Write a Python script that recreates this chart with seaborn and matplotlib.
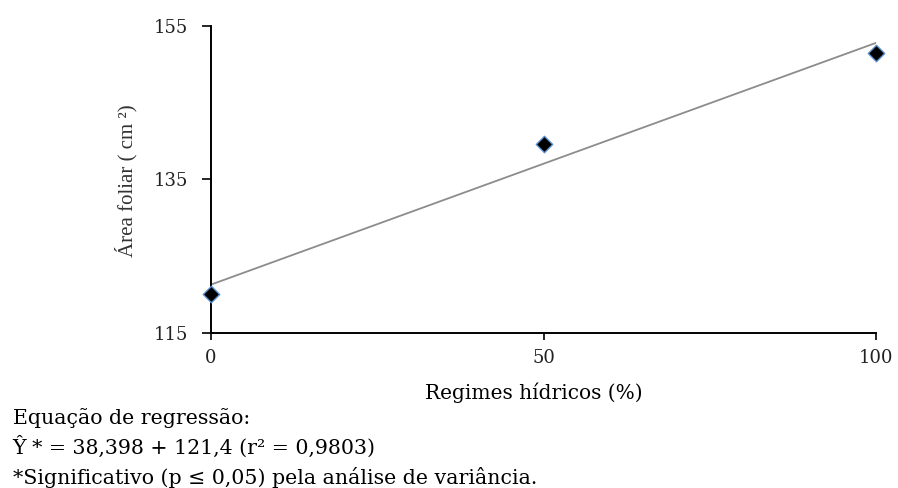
import matplotlib
matplotlib.use("Agg")
import matplotlib.pyplot as plt
import seaborn as sns
import pandas as pd

# Water regime treatments (%) and mean leaf area (cm²)
regimes = [0, 50, 100]
leaf_area = [120.0, 139.6, 151.5]
x_ticks = [0, 50, 100]
y_ticks = [115, 135, 155]

x_label = "Regimes hídricos (%)"
y_label = "Área foliar ( cm ²)"
notes = [
    "Equação de regressão:",
    "Ŷ * = 38,398 + 121,4 (r² = 0,9803)",
    "*Significativo (p ≤ 0,05) pela análise de variância.",
]

df = pd.DataFrame({"regime": regimes, "area": leaf_area})

sns.set_theme(style="white")
plt.rcParams["font.family"] = ["DejaVu Serif", "Liberation Serif"]

fig = plt.figure(figsize=(8.98, 4.88), dpi=100)
ax = fig.add_axes([0.235, 0.318, 0.7405, 0.629])

sns.regplot(data=df, x="regime", y="area", ax=ax, ci=None, scatter=False,
            line_kws={"color": "#8c8c8c", "lw": 1.3, "zorder": 2})
sns.scatterplot(data=df, x="regime", y="area", ax=ax, marker="D", s=70,
                color="black", edgecolor="#5b8fd0", linewidth=1.0, zorder=3,
                clip_on=False)

ax.set_xlim(0, 100)
ax.set_ylim(115, 155)
ax.set_xticks(x_ticks)
ax.set_yticks(y_ticks)
ax.tick_params(axis="both", direction="out", width=1.2, color="black",
               labelsize=13, labelcolor="#222222", bottom=True, left=True)
ax.tick_params(axis="x", length=5, pad=7)
ax.tick_params(axis="y", length=6.5, pad=10)
for side in ["top", "right"]:
    ax.spines[side].set_visible(False)
for side in ["left", "bottom"]:
    ax.spines[side].set_color("black")
    ax.spines[side].set_linewidth(1.4)

ax.set_xlabel("")
ax.set_ylabel("")
fig.text(0.595, 0.195, x_label, ha="center", va="center", fontsize=14.5,
         color="black")
fig.text(0.141, 0.63, y_label, ha="center", va="center", rotation=90,
         fontsize=15, color="#333333", family=["Liberation Serif"])

for i, line in enumerate(notes):
    fig.text(0.014, 0.131 - i * 0.061, line, ha="left", va="baseline",
             fontsize=14.8, color="black")

fig.savefig("out.png", dpi=100)
